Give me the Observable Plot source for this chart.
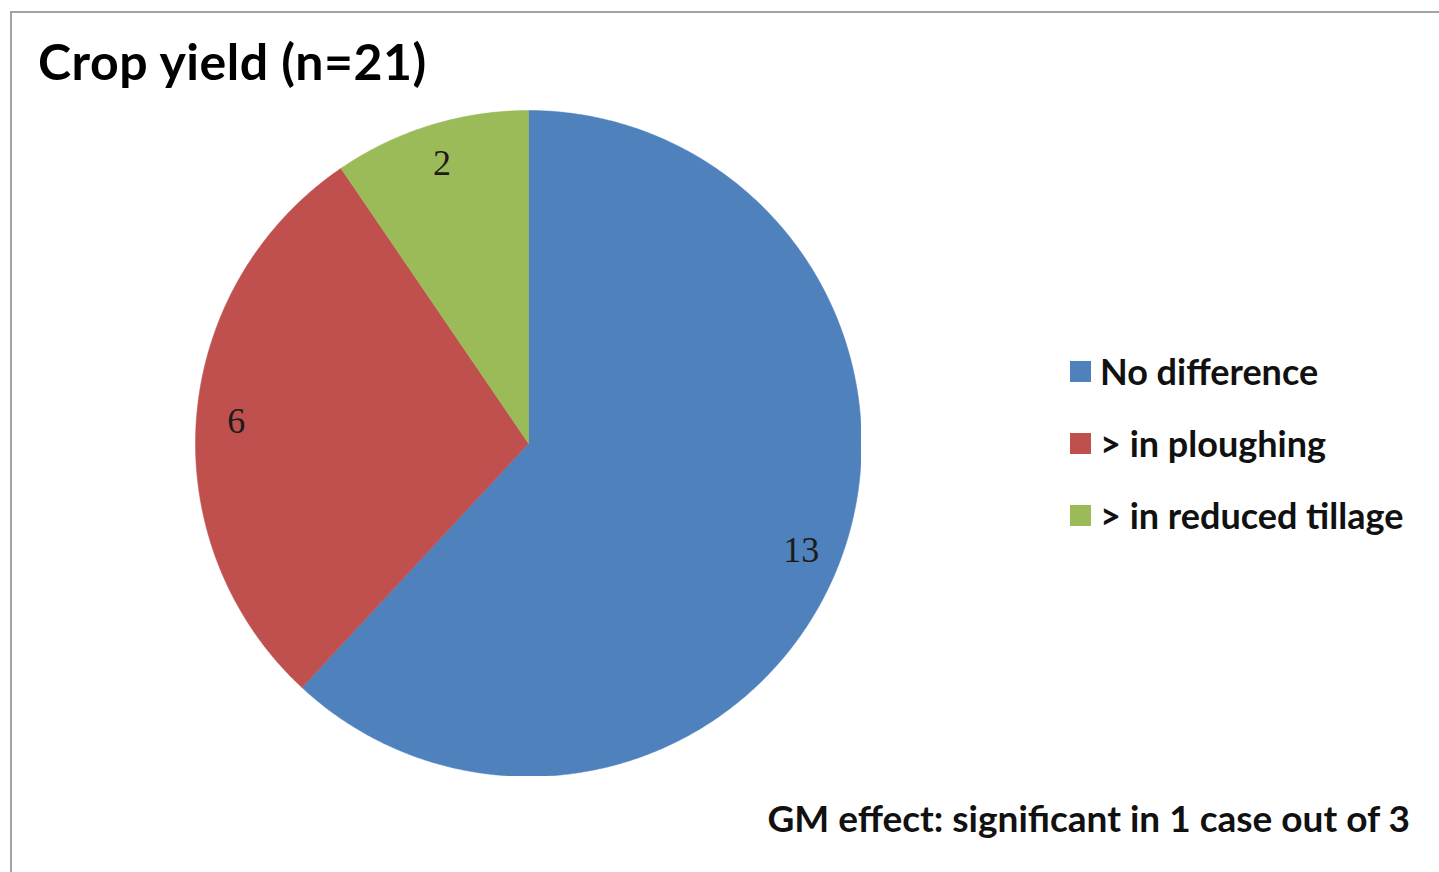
<!DOCTYPE html>
<html>
<head>
<meta charset="utf-8">
<script src="https://cdn.jsdelivr.net/npm/d3@7"></script>
<script src="https://cdn.jsdelivr.net/npm/@observablehq/plot@0.6"></script>
<style>
  html, body { margin: 0; padding: 0; background: #fff; overflow: hidden; }
  #page { position: relative; width: 1439px; height: 872px; overflow: hidden; background: #fff; }
  #frame { position: absolute; left: 10px; top: 11px; width: 1500px; height: 900px;
           border-top: 2px solid #a3a3a3; border-left: 2px solid #a3a3a3; }
  #title { position: absolute; left: 38px; top: 31px; font-family: Lato, sans-serif;
           font-weight: 700; font-size: 50px; letter-spacing: 0.5px; color: #000; white-space: nowrap; }
  #pie { position: absolute; left: 195px; top: 110px; }
  #legend { position: absolute; left: 1070px; top: 335px; font-family: Lato, sans-serif;
            font-weight: 700; font-size: 36px; color: #111; }
  .item { display: flex; align-items: center; height: 72px; white-space: nowrap; }
  .sw { width: 21px; height: 21px; margin-right: 9px; flex: none; }
  #note { position: absolute; right: 29px; top: 795px; font-family: Lato, sans-serif;
          font-weight: 700; font-size: 37px; color: #111; white-space: nowrap; }
</style>
</head>
<body>
<div id="page">
  <div id="frame"></div>
  <div id="title"></div>
  <div id="pie"></div>
  <div id="legend"></div>
  <div id="note"></div>
</div>
<script>
// Crop yield comparison: number of cases per outcome
const titleText = "Crop yield (n=21)";
const categories = ["No difference", "> in ploughing", "> in reduced tillage"];
const counts = [13, 6, 2];
const colors = ["#4F81BD", "#C0504D", "#9BBB59"];
const noteText = "GM effect: significant in 1 case out of 3";

const slices = categories.map((name, i) => ({name, count: counts[i]}));

// Angles start at 12 o'clock and run clockwise, in the given order
const arcs = d3.pie().sort(null).value(d => d.count)(slices);

// Each slice becomes a closed polygon: centre, points along the arc, centre
const outline = [];
for (const a of arcs) {
  const steps = Math.max(2, Math.ceil((a.endAngle - a.startAngle) / (Math.PI / 360)));
  outline.push({name: a.data.name, x: 0, y: 0});
  for (let k = 0; k <= steps; ++k) {
    const t = a.startAngle + (a.endAngle - a.startAngle) * k / steps;
    outline.push({name: a.data.name, x: Math.sin(t), y: Math.cos(t)});
  }
  outline.push({name: a.data.name, x: 0, y: 0});
}

// Value labels sit near the outer edge of each slice
const labelRadius = 0.88;
const labels = arcs.map(a => {
  const t = (a.startAngle + a.endAngle) / 2;
  return {name: a.data.name, count: a.data.count, x: labelRadius * Math.sin(t), y: labelRadius * Math.cos(t)};
});

const size = 666;
const chart = Plot.plot({
  width: size,
  height: size,
  margin: 0,
  x: {domain: [-1, 1], axis: null},
  y: {domain: [-1, 1], axis: null},
  color: {domain: categories, range: colors},
  marks: [
    Plot.line(outline, {x: "x", y: "y", z: "name", fill: "name", stroke: "name", strokeWidth: 0.5, curve: "linear-closed"}),
    Plot.text(labels, {x: "x", y: "y", text: d => String(d.count), fill: "#1b1b1b",
      fontFamily: "Liberation Serif, serif", fontSize: 36})
  ]
});
document.getElementById("pie").appendChild(chart);

document.getElementById("title").textContent = titleText;
document.getElementById("note").textContent = noteText;

const legend = document.getElementById("legend");
categories.forEach((name, i) => {
  const row = document.createElement("div");
  row.className = "item";
  const sw = document.createElement("span");
  sw.className = "sw";
  sw.style.background = colors[i];
  const label = document.createElement("span");
  label.textContent = name;
  row.appendChild(sw);
  row.appendChild(label);
  legend.appendChild(row);
});
</script>
</body>
</html>
